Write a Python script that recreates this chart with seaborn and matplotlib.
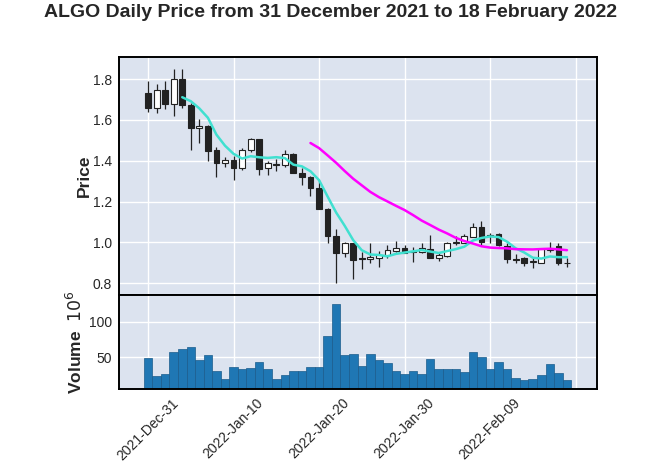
import numpy as np
import pandas as pd
import matplotlib
matplotlib.use("Agg")
import matplotlib.pyplot as plt
import seaborn as sns

# ALGO daily candles, 31 Dec 2021 .. 18 Feb 2022 (50 sessions)
opens = [1.733, 1.660, 1.744, 1.676, 1.801, 1.673, 1.560, 1.568, 1.450, 1.387,
         1.403, 1.363, 1.450, 1.504, 1.362, 1.385, 1.380, 1.431, 1.342, 1.320,
         1.268, 1.165, 1.031, 0.949, 0.995, 0.922, 0.917, 0.922, 0.938, 0.959,
         0.971, 0.958, 0.954, 0.966, 0.922, 0.933, 0.998, 0.998, 1.027, 1.076,
         1.030, 1.040, 0.983, 0.917, 0.922, 0.905, 0.900, 0.964, 0.982, 0.900]
highs = [1.790, 1.774, 1.790, 1.847, 1.850, 1.684, 1.603, 1.575, 1.465, 1.416,
         1.424, 1.463, 1.512, 1.504, 1.400, 1.408, 1.450, 1.437, 1.366, 1.323,
         1.304, 1.166, 1.063, 1.003, 0.997, 0.954, 0.995, 0.959, 0.987, 1.008,
         0.987, 0.976, 0.995, 1.036, 0.954, 1.000, 1.031, 1.040, 1.096, 1.105,
         1.047, 1.047, 0.995, 0.941, 0.930, 0.922, 0.966, 1.003, 0.995, 0.922]
lows = [1.636, 1.632, 1.652, 1.620, 1.660, 1.454, 1.489, 1.397, 1.319, 1.371,
        1.307, 1.353, 1.442, 1.328, 1.328, 1.350, 1.370, 1.340, 1.280, 1.226,
        1.162, 0.998, 0.800, 0.930, 0.820, 0.868, 0.897, 0.881, 0.922, 0.954,
        0.946, 0.905, 0.949, 0.925, 0.910, 0.930, 0.987, 0.995, 1.027, 0.987,
        0.995, 0.982, 0.897, 0.897, 0.884, 0.873, 0.897, 0.954, 0.889, 0.878]
closes = [1.660, 1.744, 1.676, 1.801, 1.673, 1.562, 1.568, 1.447, 1.387, 1.403,
          1.363, 1.452, 1.504, 1.361, 1.388, 1.380, 1.431, 1.342, 1.320, 1.268,
          1.163, 1.031, 0.949, 0.995, 0.915, 0.917, 0.926, 0.938, 0.962, 0.974,
          0.950, 0.955, 0.971, 0.925, 0.938, 0.998, 1.002, 1.031, 1.076, 1.000,
          1.035, 0.987, 0.917, 0.915, 0.898, 0.907, 0.966, 0.968, 0.898, 0.898]
# volume in units of 10^6
volumes = [49, 23.6, 27, 58, 62.5, 65, 47, 53, 30.5, 19,
           37, 33, 34.7, 43, 33, 19, 24.5, 31.5, 30.5, 36,
           36, 80.5, 125.5, 53, 54.6, 37.5, 54.6, 46.8, 42, 30.5,
           26, 30.5, 27, 47.7, 33, 34, 33, 29.6, 58, 51,
           34, 43.5, 33, 21, 18, 19, 24.5, 40, 28, 18]

tick_pos = [0, 10, 20, 30, 40, 50]
tick_labels = ['2021-Dec-31', '2022-Jan-10', '2022-Jan-20', '2022-Jan-30', '2022-Feb-09', '']

df = pd.DataFrame({'Open': opens, 'High': highs, 'Low': lows,
                   'Close': closes, 'Volume': volumes})
df['idx'] = np.arange(len(df))
df['ma5'] = df['Close'].rolling(5).mean()
df['ma20'] = df['Close'].rolling(20).mean()

sns.set_theme(style="darkgrid", rc={
    'axes.facecolor': '#DCE3EF',
    'axes.edgecolor': 'black',
    'axes.linewidth': 1.4,
    'grid.color': 'white',
    'grid.linewidth': 1.0,
})
plt.rcParams['font.family'] = ['Liberation Sans', 'DejaVu Sans']

fig = plt.figure(figsize=(6.61, 4.75), dpi=100)
ax_p = fig.add_axes([0.180, 0.379, 0.723, 0.501])
ax_v = fig.add_axes([0.180, 0.181, 0.723, 0.198])

# candlesticks
up = df['Close'] >= df['Open']
body_lo = df[['Open', 'Close']].min(axis=1)
body_h = (df['Close'] - df['Open']).abs()
ax_p.vlines(df['idx'], df['Low'], df['High'], color='#222222', linewidth=0.9, zorder=2)
ax_p.bar(df['idx'], body_h, bottom=body_lo, width=0.68,
         color=np.where(up, 'white', '#222222'), edgecolor='#222222',
         linewidth=0.8, zorder=3)

# moving averages
m5 = df.dropna(subset=['ma5'])
m20 = df.dropna(subset=['ma20'])
sns.lineplot(x=m5['idx'], y=m5['ma5'], ax=ax_p, color='#40e0d0', linewidth=1.8, zorder=4)
sns.lineplot(x=m20['idx'], y=m20['ma20'], ax=ax_p, color='#ff00ff', linewidth=1.8, zorder=4)

pad = (df['High'].max() - df['Low'].min()) * 0.055
ax_p.set_ylim(df['Low'].min() - pad, df['High'].max() + pad)
ax_p.set_yticks([0.8, 1.0, 1.2, 1.4, 1.6, 1.8])
ax_p.set_ylabel('Price', fontsize=12.5, fontweight='bold', labelpad=1)
ax_p.set_xlabel('')

# volume
sns.barplot(x=df['idx'], y=df['Volume'], ax=ax_v, color='#1f77b4', width=1.0,
            saturation=1, edgecolor='#1a5c8c', linewidth=0.5)
ax_v.set_ylim(0.3 * df['Volume'].min(), 1.1 * df['Volume'].max())
ax_v.set_yticks([50, 100])
ax_v.set_ylabel('Volume  $10^{6}$', fontsize=12.5, fontweight='bold', labelpad=3)
ax_v.set_xlabel('')

for ax in (ax_p, ax_v):
    ax.set_xlim(-3.4, 52.5)
    ax.set_xticks(tick_pos)
    ax.tick_params(axis='both', labelsize=10, length=0, pad=5)
    ax.grid(True, color='white', linewidth=1.0)
    for s in ax.spines.values():
        s.set_visible(True)
        s.set_edgecolor('black')
        s.set_linewidth(1.4)

ax_p.set_xticklabels([])
ax_v.set_xticklabels(tick_labels, rotation=45, ha='center')

fig.suptitle('ALGO Daily Price from 31 December 2021 to 18 February 2022',
             fontsize=14, fontweight='bold', y=0.973, va='center')

fig.savefig('out.png', dpi=100, facecolor='white')
